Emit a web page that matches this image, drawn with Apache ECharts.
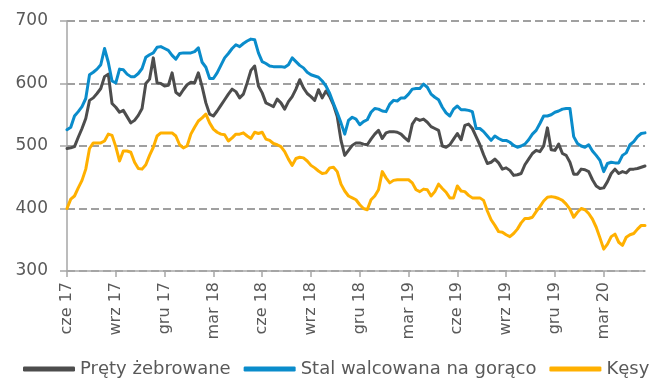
<!DOCTYPE html>
<html>
<head>
<meta charset="utf-8">
<script src="https://cdn.jsdelivr.net/npm/echarts@6/dist/echarts.min.js"></script>
<style>
  html, body { margin: 0; padding: 0; background: #fff; }
  #chart { width: 670px; height: 378px; }
</style>
</head>
<body>
<div id="chart"></div>
<script>
// Weekly prices, June 2017 – May 2020
const quarterLabels = ['cze 17', 'wrz 17', 'gru 17', 'mar 18', 'cze 18', 'wrz 18',
  'gru 18', 'mar 19', 'cze 19', 'wrz 19', 'gru 19', 'mar 20'];

const pretyZebrowane = [
  496, 497, 499, 514, 528, 544, 573, 577, 584, 592, 611, 615, 568, 562, 554, 557, 547, 537, 541, 549,
  560, 600, 607, 641, 601, 600, 596, 597, 617, 586, 581, 590, 598, 602, 601, 617, 595, 569, 551, 548,
  556, 565, 574, 583, 591, 587, 577, 583, 601, 621, 628, 596, 585, 569, 566, 563, 575, 569, 559, 571,
  579, 591, 606, 593, 584, 579, 573, 590, 577, 588, 579, 566, 547, 509, 485, 493, 501, 505, 505, 503,
  502, 511, 519, 525, 512, 521, 523, 523, 522, 519, 513, 508, 535, 544, 541, 543, 538, 531, 528, 525,
  500, 498, 502, 511, 520, 510, 533, 535, 528, 515, 502, 486, 472, 474, 479, 473, 463, 465, 461, 453,
  454, 456, 470, 479, 488, 493, 491, 500, 529, 494, 493, 503, 488, 485, 474, 455, 455, 463, 462, 459,
  446, 436, 432, 433, 443, 456, 463, 456, 459, 457, 463, 463, 464, 466, 468
];

const stalWalcowana = [
  526, 530, 548, 555, 563, 576, 614, 618, 623, 630, 656, 634, 604, 601, 623, 622, 615, 611, 611, 616,
  624, 642, 646, 649, 658, 659, 656, 653, 645, 639, 648, 649, 649, 649, 651, 657, 634, 626, 608, 608,
  617, 629, 641, 648, 656, 662, 659, 664, 668, 671, 670, 649, 635, 632, 628, 627, 627, 627, 626, 630,
  641, 635, 629, 625, 618, 614, 612, 610, 604, 596, 584, 568, 553, 537, 519, 541, 546, 543, 534, 539,
  542, 554, 560, 559, 556, 555, 567, 573, 572, 577, 577, 583, 591, 592, 592, 599, 594, 583, 578, 574,
  562, 553, 548, 559, 564, 558, 558, 557, 555, 528, 528, 523, 516, 509, 516, 512, 509, 509, 506, 501,
  498, 500, 503, 510, 519, 525, 536, 548, 548, 550, 554, 556, 559, 560, 560, 515, 504, 500, 498, 502,
  492, 485, 477, 459, 472, 474, 473, 473, 485, 489, 502, 507, 515, 520, 521
];

const kesy = [
  400, 415, 420, 433, 445, 463, 496, 505, 505, 505, 508, 519, 517, 499, 476, 492, 492, 490, 474, 464,
  463, 470, 485, 498, 516, 521, 521, 521, 521, 516, 502, 497, 500, 519, 530, 540, 545, 551, 537, 527,
  522, 519, 518, 508, 513, 519, 519, 521, 516, 512, 522, 520, 522, 511, 509, 504, 502, 499, 491, 479,
  469, 480, 482, 481, 476, 469, 465, 460, 456, 457, 465, 466, 459, 439, 428, 420, 417, 414, 406, 400,
  398, 414, 420, 430, 459, 449, 441, 445, 446, 446, 446, 446, 441, 430, 427, 431, 430, 420, 427, 439,
  432, 426, 417, 417, 436, 428, 427, 421, 417, 417, 417, 413, 396, 382, 373, 363, 362, 358, 355, 360,
  367, 377, 384, 384, 386, 395, 403, 412, 418, 419, 418, 416, 413, 407, 399, 386, 394, 400, 398, 392,
  383, 370, 353, 335, 343, 355, 359, 346, 341, 354, 358, 360, 367, 373, 373
];

// One category per week, starting on the first Friday of June 2017
const weeks = [];
const start = new Date(Date.UTC(2017, 5, 2));
for (let i = 0; i < pretyZebrowane.length; i++) {
  const d = new Date(start.getTime() + i * 7 * 86400000);
  weeks.push(d.toISOString().slice(0, 10));
}

const WEEKS_PER_QUARTER = 13;
const isQuarterStart = (idx) =>
  idx % WEEKS_PER_QUARTER === 0 && idx / WEEKS_PER_QUARTER < quarterLabels.length;

const FONT = 'DejaVu Sans';
const TEXT = '#595959';
const AXIS = '#a6a6a6';

const chart = echarts.init(document.getElementById('chart'), null, { renderer: 'canvas' });

const lineSeries = (name, data, color) => ({
  name,
  type: 'line',
  data,
  symbol: 'none',
  smooth: false,
  lineStyle: { color, width: 3, join: 'round', cap: 'round' },
  itemStyle: { color },
  emphasis: { disabled: true }
});

chart.setOption({
  animation: false,
  textStyle: { fontFamily: FONT },
  grid: { left: 67, right: 25, top: 21, bottom: 107, containLabel: false },
  legend: {
    top: 355,
    left: 18,
    right: 0,
    icon: 'roundRect',
    itemWidth: 52,
    itemHeight: 5,
    itemGap: 13,
    textStyle: { fontFamily: FONT, fontSize: 18, color: TEXT },
    data: ['Pręty żebrowane', 'Stal walcowana na gorąco', 'Kęsy']
  },
  xAxis: {
    type: 'category',
    data: weeks,
    boundaryGap: false,
    axisLine: { lineStyle: { color: AXIS, width: 1.5 } },
    axisTick: { show: true, interval: isQuarterStart, length: 6, lineStyle: { color: AXIS, width: 1.5 } },
    axisLabel: {
      interval: isQuarterStart,
      rotate: 90,
      margin: 11,
      fontFamily: FONT,
      fontSize: 16,
      color: TEXT,
      formatter: (val, idx) => quarterLabels[idx / WEEKS_PER_QUARTER]
    },
    splitLine: { show: false }
  },
  yAxis: {
    type: 'value',
    min: 300,
    max: 700,
    interval: 100,
    axisLine: { show: true, lineStyle: { color: AXIS, width: 1.5 } },
    axisTick: { show: true, length: 7, lineStyle: { color: AXIS, width: 1.5 } },
    axisLabel: { margin: 19, fontFamily: FONT, fontSize: 17, color: TEXT },
    splitLine: { show: true, lineStyle: { color: '#a0a0a0', width: 2, type: 'dashed' } }
  },
  series: [
    lineSeries('Pręty żebrowane', pretyZebrowane, '#4d4d4d'),
    lineSeries('Stal walcowana na gorąco', stalWalcowana, '#0a8ccb'),
    lineSeries('Kęsy', kesy, '#ffb000')
  ]
});
</script>
</body>
</html>
